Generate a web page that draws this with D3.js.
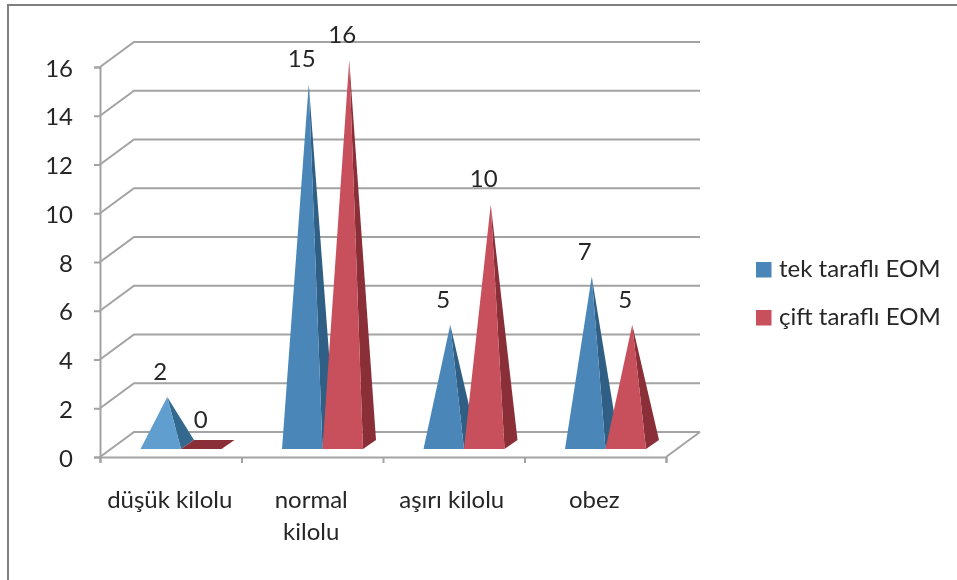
<!DOCTYPE html>
<html><head><meta charset="utf-8">
<script src="https://cdn.jsdelivr.net/npm/d3@7/dist/d3.min.js"></script>
<style>
html,body{margin:0;padding:0;background:#fff}
svg{display:block;filter:blur(0.6px)}
text{font-family:Lato,"Open Sans",sans-serif;fill:#262626}
</style></head><body>
<svg id="c" width="957" height="580"></svg>
<script>
const categories = ["düşük kilolu", "normal kilolu", "aşırı kilolu", "obez"];
const seriesNames = ["tek taraflı EOM", "çift taraflı EOM"];
const tekValues = [2, 15, 5, 7];
const ciftValues = [0, 16, 10, 5];
const yTicks = [0, 2, 4, 6, 8, 10, 12, 14, 16];
const frontColors = ["#4a86b8", "#c8505c"];
const sideColors = ["#2f5f84", "#8a2f37"];
const firstTek = {front: "#5f9ecf", side: "#34698f"};

const svg = d3.select("#c");
const grid = "#a3a3a3";
const depthX = 34, depthY = 25;
const fs = 24;
const y = d3.scaleLinear().domain([0, 16]).range([457, 67]);
const apexY = d3.scaleLinear().domain([0, 16]).range([445, 60]);
const x = d3.scaleBand().domain(categories).range([100, 666]);
const inner = d3.scaleBand().domain(seriesNames).range([40.5, 121.5]);

// outer picture frame
svg.append("path").attr("d", "M8,580V5H957").attr("fill", "none").attr("stroke", "#7f7f7f").attr("stroke-width", 2);

// back wall gridlines and diagonals
const g = svg.append("g").attr("stroke", grid).attr("stroke-width", 2).attr("fill", "none");
g.selectAll("path.g").data(yTicks).join("path").attr("class", "g")
  .attr("d", d => `M100,${y(d)}L${100 + depthX},${y(d) - depthY}H${666 + depthX}`);
g.append("path").attr("d", `M666,457L${666 + depthX},${457 - depthY}`);

// axes
const yAxis = d3.axisLeft(y).tickValues(yTicks).tickSize(6).tickPadding(21);
const ya = svg.append("g").attr("transform", "translate(100,0)").call(yAxis);
ya.select(".domain").attr("stroke", grid).attr("stroke-width", 2);
ya.selectAll("line").attr("stroke", grid).attr("stroke-width", 2);
ya.selectAll("text").attr("font-size", fs).attr("fill", "#262626").attr("dy", "0.38em");

const edge = d3.scaleLinear().domain([0, 4]).range([100, 666]);
const xa = svg.append("g").attr("transform", "translate(0,457)")
  .call(d3.axisBottom(edge).ticks(4).tickSize(6).tickFormat(""));
xa.select(".domain").attr("stroke", grid).attr("stroke-width", 2);
xa.selectAll("line").attr("stroke", grid).attr("stroke-width", 2);

// category labels
const catLines = {"normal kilolu": ["normal", "kilolu"]};
svg.append("g").selectAll("text").data(categories).join("text")
  .attr("text-anchor", "middle").attr("font-size", fs)
  .attr("x", d => x(d) + x.bandwidth() / 2 - (d === "aşırı kilolu" ? 2 : 1))
  .attr("y", 508)
  .each(function (d) {
    const t = d3.select(this);
    (catLines[d] || [d]).forEach((s, i) => t.append("tspan")
      .attr("x", t.attr("x")).attr("dy", i ? 32 : 0).text(s));
  });

// pyramids
const rows = [];
categories.forEach((c, i) => {
  seriesNames.forEach((s, j) => {
    rows.push({c, s, j, i, v: (j ? ciftValues : tekValues)[i]});
  });
});
const baseF = 449, baseB = 440, sideW = 13;
const m = svg.append("g").selectAll("g").data(rows).join("g");
m.each(function (d) {
  const x0 = x(d.c) + inner(d.s), x1 = x0 + inner.bandwidth();
  const ax = (x0 + x1 + sideW) / 2, ay = apexY(d.v);
  const sel = d3.select(this);
  const light = d.i === 0 && d.j === 0;
  if (d.v === 0) {
    sel.append("path").attr("d", `M${x0},${baseF}H${x1}L${x1 + sideW},${baseB}H${x0 + sideW}Z`).attr("fill", sideColors[d.j]);
  } else {
    sel.append("path").attr("d", `M${x1},${baseF}L${x1 + sideW},${baseB}L${ax},${ay}Z`)
      .attr("fill", light ? firstTek.side : sideColors[d.j]);
    sel.append("path").attr("d", `M${x0},${baseF}H${x1}L${ax},${ay}Z`)
      .attr("fill", light ? firstTek.front : frontColors[d.j]);
  }
  sel.append("text").attr("x", ax - 7).attr("y", ay - 17).attr("text-anchor", "middle")
    .attr("font-size", fs).text(d.v);
});

// legend
const lg = svg.append("g").selectAll("g").data(seriesNames).join("g")
  .attr("transform", (d, i) => `translate(756,${262 + i * 48})`);
lg.append("rect").attr("width", 15.5).attr("height", 15.5).attr("fill", (d, i) => frontColors[i]);
lg.append("text").attr("x", 23).attr("y", 15).attr("font-size", fs).text(d => d);
</script>
</body></html>
